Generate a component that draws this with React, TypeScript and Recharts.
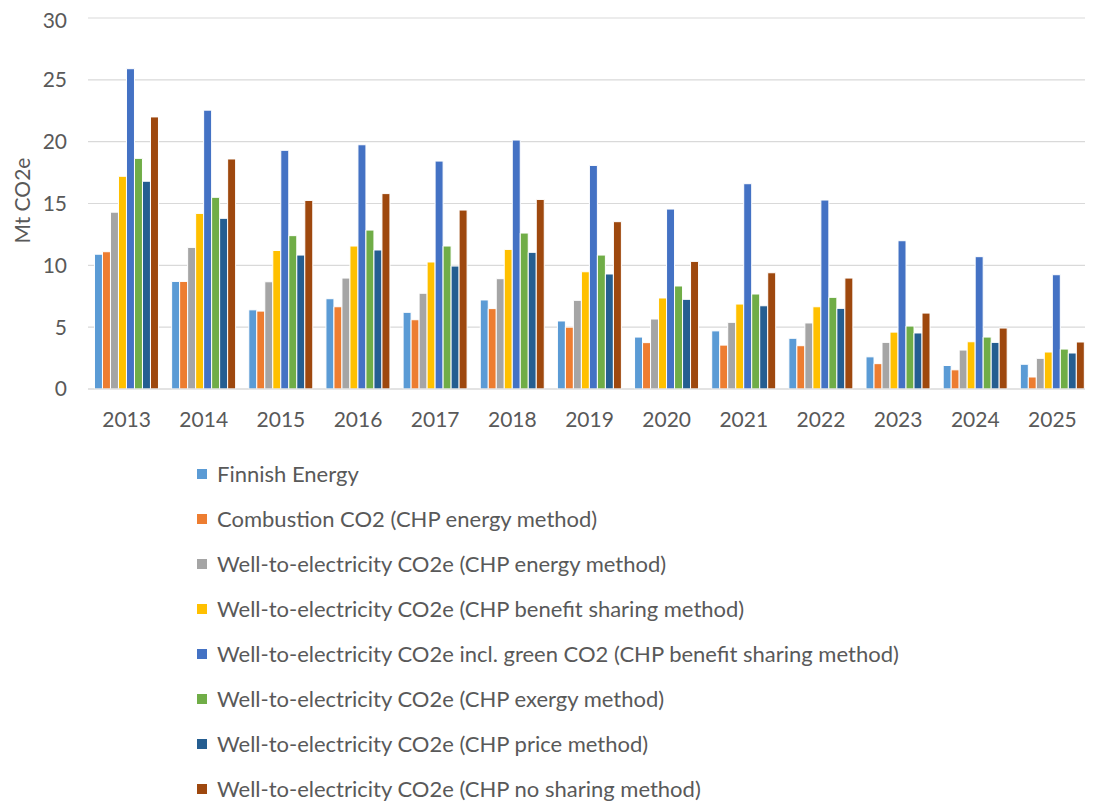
import React from 'react';
import { BarChart, Bar, XAxis, YAxis, CartesianGrid, Legend } from 'recharts';

const years = ['2013', '2014', '2015', '2016', '2017', '2018', '2019', '2020', '2021', '2022', '2023', '2024', '2025'];
const finnishEnergy = [10.9, 8.7, 6.4, 7.3, 6.2, 7.2, 5.5, 4.2, 4.7, 4.1, 2.6, 1.9, 2.0];
const combustionEnergy = [11.1, 8.7, 6.3, 6.65, 5.6, 6.5, 5.0, 3.75, 3.55, 3.5, 2.05, 1.55, 0.97];
const wteEnergy = [14.3, 11.45, 8.67, 8.97, 7.74, 8.92, 7.17, 5.66, 5.39, 5.34, 3.77, 3.15, 2.48];
const wteBenefit = [17.2, 14.2, 11.2, 11.56, 10.27, 11.29, 9.48, 7.36, 6.87, 6.65, 4.6, 3.82, 2.99];
const wteGreenBenefit = [25.9, 22.55, 19.3, 19.75, 18.43, 20.13, 18.08, 14.55, 16.6, 15.28, 11.99, 10.7, 9.24];
const wteExergy = [18.65, 15.5, 12.4, 12.85, 11.56, 12.61, 10.83, 8.33, 7.68, 7.41, 5.09, 4.2, 3.23];
const wtePrice = [16.8, 13.8, 10.83, 11.24, 9.94, 11.05, 9.3, 7.25, 6.73, 6.52, 4.53, 3.77, 2.91];
const wteNoSharing = [22.0, 18.6, 15.25, 15.8, 14.47, 15.33, 13.53, 10.32, 9.4, 8.97, 6.14, 4.93, 3.8];
const yTicks = [0, 5, 10, 15, 20, 25, 30];

const seriesNames = [
  'Finnish Energy',
  'Combustion CO2 (CHP energy method)',
  'Well-to-electricity CO2e (CHP energy method)',
  'Well-to-electricity CO2e (CHP benefit sharing method)',
  'Well-to-electricity CO2e incl. green CO2 (CHP benefit sharing method)',
  'Well-to-electricity CO2e (CHP exergy method)',
  'Well-to-electricity CO2e (CHP price method)',
  'Well-to-electricity CO2e (CHP no sharing method)',
];
const seriesValues = [finnishEnergy, combustionEnergy, wteEnergy, wteBenefit, wteGreenBenefit, wteExergy, wtePrice, wteNoSharing];
const colors = ['#5B9BD5', '#ED7D31', '#A5A5A5', '#FFC000', '#4472C4', '#70AD47', '#255E91', '#9E480E'];

const data = years.map((year, i) => {
  const row: Record<string, string | number> = { year };
  seriesNames.forEach((name, s) => {
    row['s' + s] = seriesValues[s][i];
  });
  return row;
});

const FONT = 'Lato, "Open Sans", sans-serif';
const TEXT = '#595959';

const renderLegend = (props: any) => {
  const payload: any[] = props.payload || [];
  const ordered = seriesNames.map((name, s) => {
    const found = payload.find((p) => p.value === name);
    return { value: name, color: found ? found.color : colors[s] };
  });
  return (
    <div style={{ fontFamily: FONT, fontSize: 22, color: TEXT }}>
      {ordered.map((entry, i) => (
        <div key={i} style={{ height: 45, display: 'flex', alignItems: 'center', whiteSpace: 'nowrap' }}>
          <span style={{ display: 'inline-block', width: 10, height: 10, background: entry.color, marginRight: 10 }} />
          <span>{entry.value}</span>
        </div>
      ))}
    </div>
  );
};

export default function App() {
  return (
    <div style={{ width: 1085, height: 797, background: '#fff' }}>
      <BarChart
        width={1085}
        height={797}
        data={data}
        margin={{ top: 10, right: 2, bottom: 376, left: 20 }}
        barCategoryGap="8.4%"
        barGap={0}
      >
        <CartesianGrid vertical={false} stroke="#D9D9D9" strokeWidth={1.2} />
        <XAxis
          dataKey="year"
          height={40}
          axisLine={{ stroke: '#D9D9D9', strokeWidth: 1.2 }}
          tickLine={false}
          tickSize={0}
          tickMargin={23}
          tick={{ fill: TEXT, fontSize: 21, fontFamily: FONT }}
          interval={0}
        />
        <YAxis
          width={60}
          domain={[0, 30]}
          ticks={yTicks}
          axisLine={false}
          tickLine={false}
          tickSize={0}
          tickMargin={21}
          tick={{ fill: TEXT, fontSize: 21, fontFamily: FONT }}
          label={{ value: 'Mt CO2e', angle: -90, position: 'insideLeft', offset: -5, dy: 40, fill: TEXT, fontSize: 21, fontFamily: FONT }}
        />
        <Legend
          layout="horizontal"
          verticalAlign="middle"
          align="center"
          wrapperStyle={{ top: 443, left: 189, width: 860, height: 360 }}
          content={renderLegend}
        />
        {seriesNames.map((name, s) => (
          <Bar
            key={name}
            dataKey={'s' + s}
            name={name}
            fill={colors[s]}
            stroke="#FFFFFF"
            strokeWidth={1}
            isAnimationActive={false}
          />
        ))}
      </BarChart>
    </div>
  );
}
